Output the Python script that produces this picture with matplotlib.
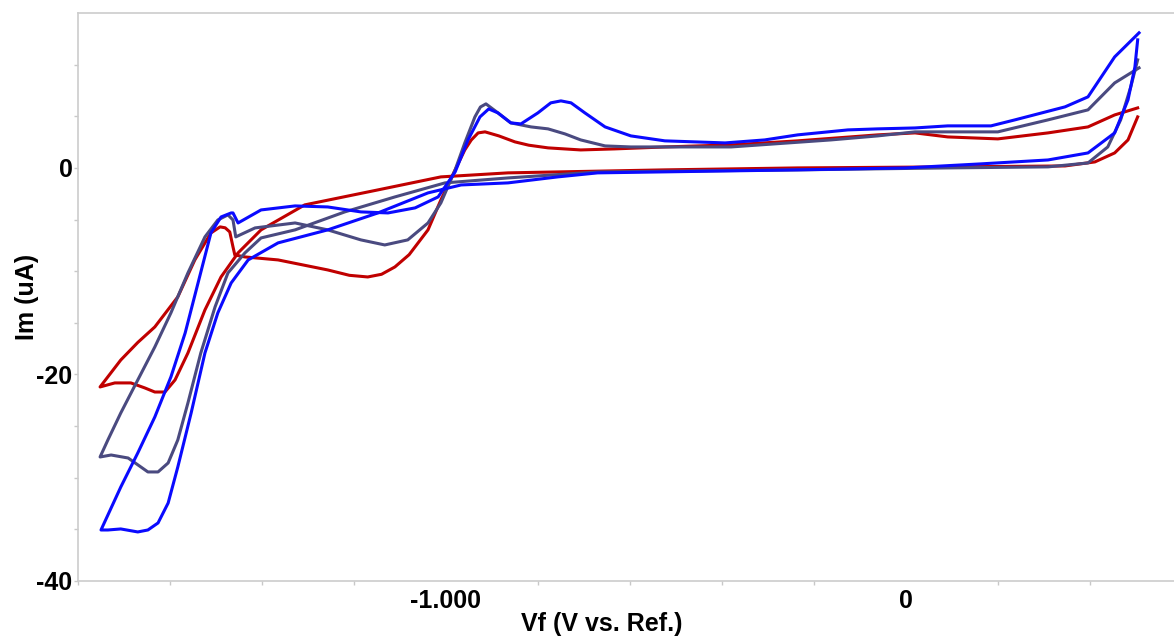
import numpy as np
import matplotlib.pyplot as plt

# cyclic voltammograms (V vs. Ref., uA)
red_v = [0.504, 0.454, 0.396, 0.309, 0.200, 0.091, 0.020, -0.061, -0.235, -0.380, -0.524,
         -0.633, -0.707, -0.778, -0.820, -0.850, -0.885, -0.915, -0.930, -0.945, -0.959,
         -0.980, -1.011, -1.039, -1.080, -1.111, -1.140, -1.170, -1.210, -1.257, -1.365,
         -1.437, -1.459, -1.463, -1.470, -1.480, -1.491, -1.511,
         -1.546, -1.583, -1.633, -1.670, -1.707, -1.752,
         -1.720, -1.685, -1.655, -1.633, -1.611, -1.589, -1.561, -1.524, -1.489, -1.452,
         -1.402, -1.307, -1.148, -1.011, -0.865, -0.524, -0.235, 0.091, 0.346, 0.411,
         0.454, 0.483, 0.504]
red_i = [5.81, 5.13, 3.97, 3.39, 2.81, 3.00, 3.39, 3.20, 2.62, 2.23, 2.03,
         1.84, 1.74, 1.94, 2.20, 2.52, 3.10, 3.49, 3.39, 2.70, 1.74,
         -0.19, -3.10, -6.00, -8.40, -9.59, -10.30, -10.56, -10.40, -9.88, -8.91,
         -8.62, -8.43, -7.65, -6.20, -5.80, -5.71, -6.30,
         -8.91, -12.49, -15.40, -16.90, -18.60, -21.21,
         -20.82, -20.82, -21.30, -21.70, -21.70, -20.53, -17.92, -13.75, -10.56, -8.23,
         -6.00, -3.58, -2.13, -0.87, -0.48, -0.19, 0.00, 0.10, 0.19, 0.58,
         1.45, 2.71, 4.94]

slate_v = [0.507, 0.454, 0.396, 0.309, 0.200, 0.091, 0.020, -0.061, -0.163, -0.380, -0.598,
           -0.654, -0.707, -0.741, -0.778, -0.815, -0.859, -0.887, -0.913, -0.925, -0.937,
           -0.959, -0.980, -1.011, -1.039, -1.083, -1.133, -1.185, -1.257, -1.328, -1.415,
           -1.457, -1.463, -1.474, -1.496, -1.524, -1.561, -1.598, -1.633, -1.670, -1.707,
           -1.735, -1.752,
           -1.728, -1.691, -1.648, -1.626, -1.604, -1.583, -1.561, -1.533, -1.502, -1.474,
           -1.437, -1.402, -1.328, -1.220, -1.111, -1.002, -0.865, -0.670, -0.235, 0.091,
           0.309, 0.396, 0.439, 0.467, 0.489, 0.504]
slate_i = [9.69, 8.23, 5.62, 4.65, 3.49, 3.49, 3.49, 3.10, 2.71, 2.03, 2.03,
           2.13, 2.71, 3.29, 3.78, 3.97, 4.36, 5.33, 6.20, 5.90, 4.94,
           2.42, -0.19, -3.39, -5.33, -6.97, -7.46, -6.97, -6.00, -5.33, -5.81,
           -6.68, -5.04, -4.55, -5.04, -6.68, -10.17, -14.04, -17.34, -20.53, -23.73,
           -26.34, -27.99,
           -27.80, -28.09, -29.44, -29.44, -28.57, -26.34, -22.76, -17.92, -13.46, -10.17,
           -8.23, -6.78, -6.00, -4.26, -2.81, -1.45, -0.97, -0.39, -0.19, 0.00,
           0.10, 0.48, 2.03, 4.65, 7.85, 10.46]

blue_v = [0.507, 0.454, 0.396, 0.346, 0.237, 0.185, 0.091, 0.020, -0.061, -0.126, -0.235,
          -0.307, -0.393, -0.524, -0.598, -0.654, -0.698, -0.728, -0.750, -0.772, -0.800,
          -0.837, -0.859, -0.887, -0.907, -0.926, -0.952, -0.980, -1.017, -1.067, -1.126,
          -1.185, -1.257, -1.328, -1.402, -1.448, -1.452, -1.463, -1.467, -1.489, -1.511,
          -1.539, -1.567, -1.598, -1.633, -1.670, -1.707, -1.750,
          -1.735, -1.707, -1.670, -1.648, -1.626, -1.604, -1.583, -1.554, -1.524, -1.496,
          -1.467, -1.430, -1.365, -1.257, -1.148, -1.039, -0.967, -0.865, -0.757, -0.670,
          -0.235, 0.000, 0.163, 0.309, 0.396, 0.454, 0.483, 0.498, 0.504]
blue_i = [13.08, 10.75, 6.88, 5.91, 4.65, 4.07, 4.07, 3.87, 3.78, 3.68, 3.20,
          2.71, 2.42, 2.62, 3.10, 3.97, 5.33, 6.30, 6.49, 6.30, 5.33,
          4.26, 4.36, 5.33, 5.71, 4.94, 2.71, -0.39, -2.81, -3.87, -4.36,
          -4.26, -3.78, -3.68, -4.07, -5.23, -5.33, -4.36, -4.36, -4.75, -6.30,
          -11.14, -15.98, -20.24, -24.12, -27.60, -30.90, -35.06,
          -35.06, -34.96, -35.25, -35.06, -34.38, -32.45, -28.96, -23.73, -17.92, -14.04,
          -11.14, -8.91, -7.26, -6.00, -4.36, -2.42, -1.65, -1.45, -0.87, -0.48,
          -0.19, 0.00, 0.39, 0.77, 1.45, 3.39, 6.59, 9.78, 12.40]

plt.rcParams['font.family'] = ['Liberation Sans', 'DejaVu Sans']

fig = plt.figure(figsize=(11.74, 6.37), dpi=100)
ax = fig.add_axes([78 / 1174, 1 - 581 / 637, 1 - 78 / 1174, (581 - 13) / 637])

ax.plot(red_v, red_i, color='#c00000', lw=2.2, solid_joinstyle='round')
ax.plot(slate_v, slate_i, color='#4a4a80', lw=2.2, solid_joinstyle='round')
ax.plot(blue_v, blue_i, color='#0a0aff', lw=2.2, solid_joinstyle='round')

ax.set_xlim(-1.8, 0.583)
ax.set_ylim(-40, 15)

ax.set_xticks([-1.0, 0.0])
ax.set_xticklabels(['-1.000', '0'])
ax.set_xticks(np.arange(-1.8, 0.6, 0.2), minor=True)
ax.set_yticks([-40, -20, 0])
ax.set_yticklabels(['-40', '-20', '0'])
ax.set_yticks(np.arange(-40, 15, 5), minor=True)

for lab in ax.get_xticklabels() + ax.get_yticklabels():
    lab.set_fontweight('bold')
    lab.set_fontsize(18)

ax.tick_params(which='both', direction='out', color='#c8c8c8', length=3, width=1)
ax.tick_params(axis='x', which='major', length=0, pad=6)
ax.tick_params(axis='y', which='major', pad=1)

for side in ['left', 'bottom', 'top']:
    ax.spines[side].set_color('#cccccc')
    ax.spines[side].set_linewidth(1.2)
ax.spines['right'].set_visible(False)

ax.set_xlabel('Vf (V vs. Ref.)', fontsize=18, fontweight='bold')
ax.xaxis.set_label_coords(0.478, -0.055)
ax.set_ylabel('Im (uA)', fontsize=18, fontweight='bold')
ax.yaxis.set_label_coords(-0.036, 0.5)

fig.savefig('out.png', dpi=100)
